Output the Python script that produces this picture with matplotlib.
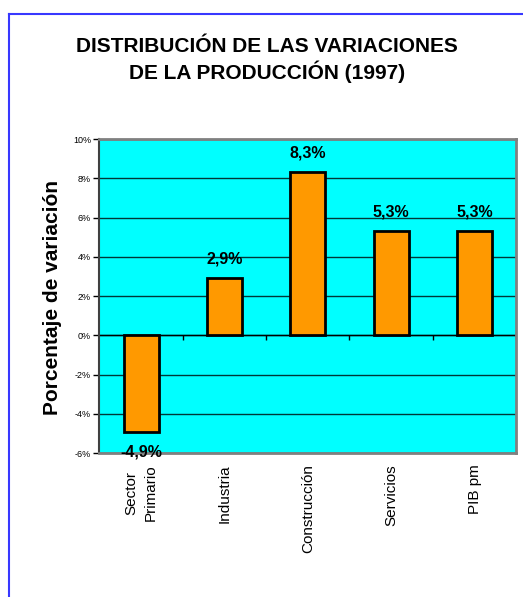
import matplotlib
matplotlib.use("Agg")
import matplotlib.pyplot as plt
from matplotlib.lines import Line2D

plt.rcParams["font.family"] = ["Liberation Sans", "DejaVu Sans"]

categories = ["Sector\nPrimario", "Industria", "Construcción", "Servicios", "PIB pm"]
values = [-4.9, 2.9, 8.3, 5.3, 5.3]
value_labels = ["-4,9%", "2,9%", "8,3%", "5,3%", "5,3%"]
yticks = [-6, -4, -2, 0, 2, 4, 6, 8, 10]

fig = plt.figure(figsize=(5.23, 5.97), dpi=100)
ax = fig.add_axes([0.190, 0.241, 0.797, 0.526])
ax.set_facecolor("#00FFFF")

x = list(range(len(categories)))
ax.bar(x, values, width=0.42, color="#FF9900", edgecolor="black", linewidth=2, zorder=3)

ax.set_xlim(-0.5, len(categories) - 0.5)
ax.set_ylim(-6, 10)
ax.set_yticks(yticks)
ax.set_yticklabels([f"{t}%" for t in yticks], fontsize=6.5)
ax.tick_params(axis="y", length=4, width=1, pad=2, direction="out")
ax.yaxis.grid(True, color="#003838", linewidth=1)
ax.set_axisbelow(True)

ax.set_xticks(x)
ax.set_xticklabels(categories, rotation=90, fontsize=11, va="top", ha="center",
                   multialignment="center", linespacing=1.45)
ax.tick_params(axis="x", length=0, pad=8)

for side in ["top", "right", "bottom"]:
    ax.spines[side].set_color("#808080")
    ax.spines[side].set_linewidth(2)
ax.spines["left"].set_color("#404040")
ax.spines["left"].set_linewidth(1.5)

# zero axis with category separator ticks
ax.axhline(0, color="black", linewidth=1, zorder=2)
ax.vlines([i + 0.5 for i in x[:-1]] + [len(categories) - 0.5], -0.22, 0,
          color="black", linewidth=1, zorder=2)

for xi, v, lab in zip(x, values, value_labels):
    off = 14 if v >= 0 else -15
    ax.annotate(lab, (xi, v), xytext=(0, off), textcoords="offset points",
                ha="center", va="center", fontsize=11.5, fontweight="bold", zorder=4)

fig.text(0.511, 0.900, "DISTRIBUCIÓN DE LAS VARIACIONES\nDE LA PRODUCCIÓN (1997)",
         ha="center", va="center", fontsize=15, fontweight="bold", linespacing=1.25)
fig.text(0.1, 0.502, "Porcentaje de variación", rotation=90, ha="center",
         va="center", fontsize=15, fontweight="bold")

# blue outer frame (only top and left edges visible)
fig.add_artist(Line2D([8.5 / 523, 8.5 / 523], [0, 1 - 14 / 597], color="#3838FF",
                      linewidth=1.5, transform=fig.transFigure))
fig.add_artist(Line2D([8.5 / 523, 1], [1 - 14 / 597, 1 - 14 / 597], color="#3838FF",
                      linewidth=1.5, transform=fig.transFigure))

fig.savefig("out.png", dpi=100, facecolor="white")
